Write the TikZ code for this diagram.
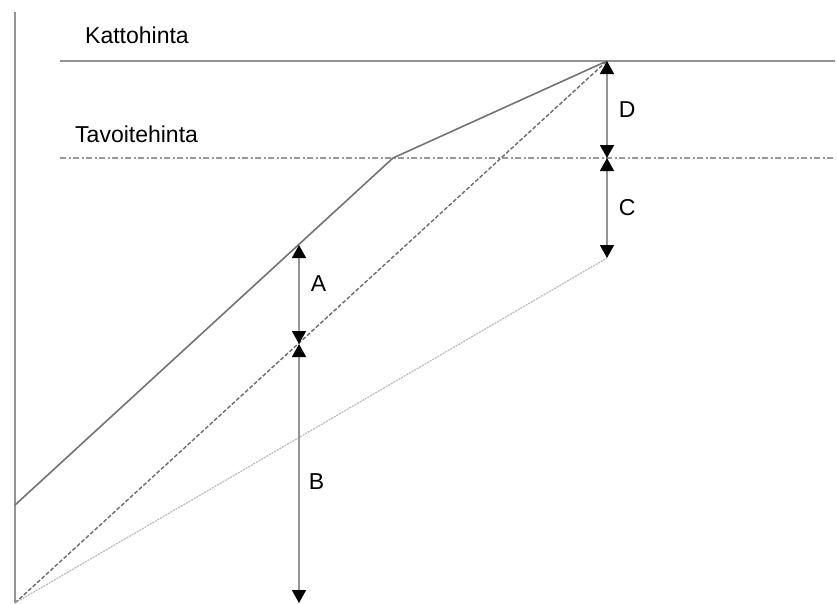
\documentclass[tikz,border=0pt]{standalone}
\usepackage{fontspec}
\setmainfont{Liberation Sans}
\usetikzlibrary{arrows.meta,positioning,calc}

\begin{document}
\begin{tikzpicture}[
    x=1pt, y=-1pt,
    axis/.style={draw=gray!85, line width=2pt},
    ceiling/.style={draw=gray!85, line width=2pt},
    target/.style={draw=gray!80, line width=1.6pt, dash pattern=on 6pt off 2.5pt on 2pt off 2.5pt},
    price/.style={draw=gray!90!black, line width=1.6pt},
    share/.style={draw=gray!85!black, line width=1.4pt, dash pattern=on 4pt off 2pt},
    cost/.style={draw=gray!55, line width=1.2pt, dash pattern=on 2pt off 1pt},
    gap/.style={draw=gray!85, line width=1.6pt, {Triangle[width=14pt,length=13pt,black]}-{Triangle[width=14pt,length=13pt,black]}},
    lbl/.style={font=\fontsize{23}{27}\selectfont, inner sep=0pt}
]
    \useasboundingbox (0,0) rectangle (837,603);

    % points
    \coordinate (axtop) at (15,12);
    \coordinate (orig) at (15,603);
    \coordinate (start) at (15,505);
    \coordinate (kink) at (393,158);
    \coordinate (top) at (607,61);
    \coordinate (mid) at (607,158);
    \coordinate (low) at (607,258);
    \coordinate (aup) at (299,245);
    \coordinate (alow) at (299,344);
    \coordinate (bend) at (299,603);
    \coordinate (capl) at (60,61);
    \coordinate (capr) at (835,61);
    \coordinate (tgtl) at (60,158);
    \coordinate (tgtr) at (835,158);

    % lines
    \path [axis] (axtop) -- (orig);
    \path [ceiling] (capl) -- (capr);
    \path [target] (tgtl) -- (tgtr);
    \path [price] (start) -- (kink) -- (top);
    \path [share] (orig) -- (top);
    \path [cost] (orig) -- (low);

    \node [lbl, anchor=west] (katto) at (85,35) {Kattohinta};
    \node [lbl, anchor=west] (tavoite) at (75,134) {Tavoitehinta};

    % gaps
    \path [gap] (top) -- node[lbl, right=11pt] {D} (mid);
    \path [gap] (mid) -- node[lbl, right=11pt] {C} (low);
    \path [gap] (aup) -- node[lbl, right=11pt, yshift=11pt] {A} (alow);
    \path [gap] (alow) -- node[lbl, right=9pt, yshift=-8pt] {B} (bend);
\end{tikzpicture}
\end{document}
